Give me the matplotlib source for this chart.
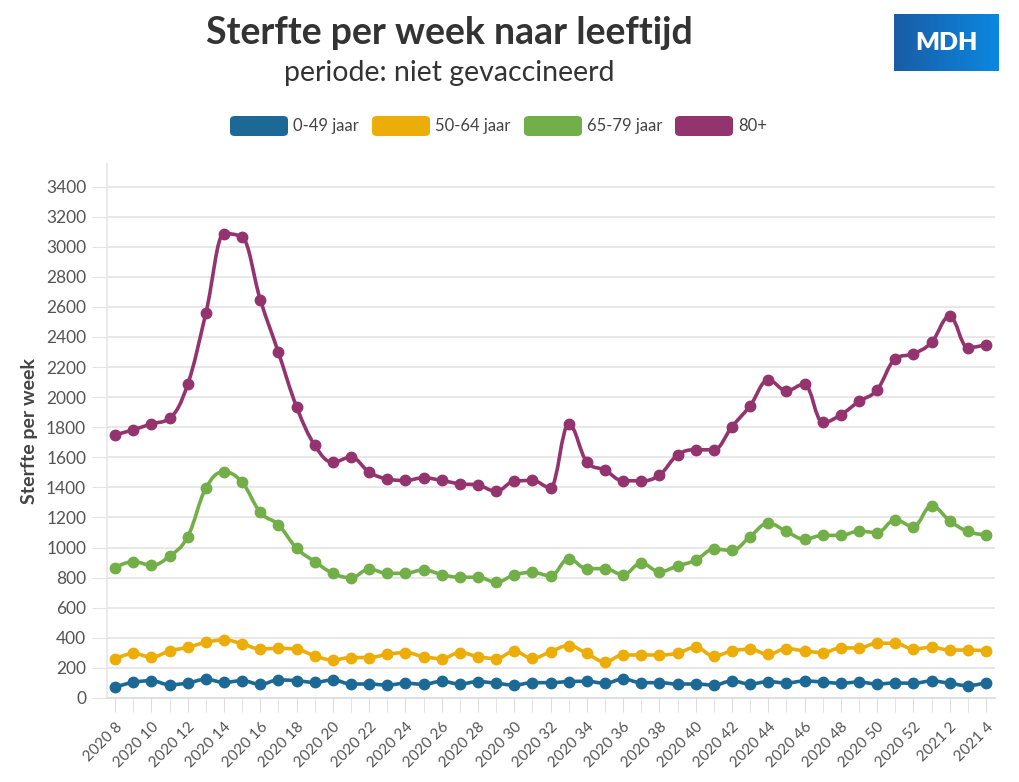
import matplotlib.pyplot as plt
import numpy as np
from matplotlib.path import Path
from matplotlib.patches import PathPatch, FancyBboxPatch
from matplotlib.colors import LinearSegmentedColormap

plt.rcParams['font.family'] = ['Lato', 'DejaVu Sans']

weeks = [f"2020 {w}" for w in range(8, 53)] + [f"2021 {w}" for w in range(1, 5)]

sterfte_0_49 = [73, 104, 115, 88, 100, 124, 104, 115, 91, 120, 115, 104, 120, 93, 93,
                86, 98, 91, 111, 93, 109, 98, 86, 102, 102, 109, 111, 98, 126, 102,
                102, 93, 93, 86, 113, 93, 109, 100, 113, 106, 98, 106, 93, 100, 98,
                113, 98, 82, 102]
sterfte_50_64 = [259, 296, 272, 313, 337, 370, 386, 361, 326, 330, 324, 280, 253, 269, 269,
                 290, 302, 275, 262, 302, 275, 262, 310, 264, 308, 348, 296, 241, 286, 286,
                 286, 298, 337, 279, 313, 324, 290, 328, 313, 302, 333, 333, 364, 364, 326,
                 337, 319, 319, 315]
sterfte_65_79 = [867, 907, 883, 943, 1073, 1395, 1502, 1433, 1234, 1151, 996, 907, 829, 800, 856,
                 829, 829, 852, 820, 803, 803, 770, 818, 836, 812, 925, 860, 860, 820, 896,
                 840, 878, 916, 989, 982, 1073, 1162, 1107, 1056, 1081, 1081, 1109, 1100, 1184, 1140,
                 1277, 1178, 1107, 1084]
sterfte_80plus = [1750, 1783, 1823, 1861, 2086, 2559, 3087, 3063, 2648, 2297, 1936, 1681, 1568, 1601, 1502,
                  1456, 1446, 1464, 1446, 1424, 1415, 1375, 1441, 1446, 1399, 1819, 1570, 1515, 1444, 1444,
                  1482, 1615, 1650, 1650, 1803, 1943, 2114, 2043, 2086, 1832, 1883, 1972, 2049, 2254, 2289,
                  2364, 2537, 2329, 2349]

series = [
    ("0-49 jaar", sterfte_0_49, "#1D6996"),
    ("50-64 jaar", sterfte_50_64, "#EDAD08"),
    ("65-79 jaar", sterfte_65_79, "#73AF48"),
    ("80+", sterfte_80plus, "#94346E"),
]


def spline_path(xs, ys, smooth=1.5):
    """Gladde lijn door de punten (spline zoals in Highcharts)."""
    n = len(xs)
    left = [None] * n
    right = [None] * n
    for i in range(1, n - 1):
        px, py = xs[i - 1], ys[i - 1]
        x, y = xs[i], ys[i]
        nx, ny = xs[i + 1], ys[i + 1]
        d = smooth + 1
        lcx, lcy = (smooth * x + px) / d, (smooth * y + py) / d
        rcx, rcy = (smooth * x + nx) / d, (smooth * y + ny) / d
        corr = (rcy - lcy) * (rcx - x) / (rcx - lcx) + y - rcy
        lcy += corr
        rcy += corr
        if lcy > py and lcy > y:
            lcy = max(py, y)
            rcy = 2 * y - lcy
        elif lcy < py and lcy < y:
            lcy = min(py, y)
            rcy = 2 * y - lcy
        if rcy > ny and rcy > y:
            rcy = max(ny, y)
            lcy = 2 * y - rcy
        elif rcy < ny and rcy < y:
            rcy = min(ny, y)
            lcy = 2 * y - rcy
        left[i] = (lcx, lcy)
        right[i] = (rcx, rcy)
    verts = [(xs[0], ys[0])]
    codes = [Path.MOVETO]
    for i in range(1, n):
        c1 = right[i - 1] or (xs[i - 1], ys[i - 1])
        c2 = left[i] or (xs[i], ys[i])
        verts += [c1, c2, (xs[i], ys[i])]
        codes += [Path.CURVE4] * 3
    return Path(verts, codes)


fig = plt.figure(figsize=(10.19, 7.82), dpi=100)
ax = fig.add_axes([107 / 1019, 84 / 782, 888 / 1019, 534 / 782])

x = np.arange(len(weeks))
for label, vals, color in series:
    ax.add_patch(PathPatch(spline_path(x, vals), fill=False, edgecolor=color,
                           lw=2.6, capstyle='round', joinstyle='round', zorder=3))
    ax.plot(x, vals, 'o', color=color, markersize=7.5, zorder=4)

ax.set_xlim(-0.45, len(weeks) - 0.5)
ax.set_ylim(0, 3550)
ax.set_yticks(np.arange(0, 3401, 200))
ax.set_xticks(x[::2])
ax.set_xticklabels(weeks[::2], rotation=45, ha='right', rotation_mode='anchor',
                   fontsize=11, color='#555555')
ax.set_xticks(x, minor=True)
ax.tick_params(axis='x', which='both', length=10, color='#dddddd', pad=6)
ax.tick_params(axis='y', length=11, color='#e3e3e3', labelsize=12.5,
               labelcolor='#555555', pad=4)
ax.grid(axis='y', color='#e6e6e6', lw=1.3)
ax.set_axisbelow(True)
for s in ['top', 'right']:
    ax.spines[s].set_visible(False)
ax.spines['left'].set_color('#e8e8e8')
ax.spines['bottom'].set_color('#dddddd')
ax.spines['left'].set_linewidth(1.3)
ax.spines['bottom'].set_linewidth(1.3)
ax.set_ylabel("Sterfte per week", fontsize=14, fontweight='bold', color='#444444', labelpad=6)

fig.text(449 / 1019, 1 - 33 / 782, "Sterfte per week naar leeftijd", ha='center', va='center',
         fontsize=27, fontweight='bold', color='#333333')
fig.text(449 / 1019, 1 - 73 / 782, "periode: niet gevaccineerd", ha='center', va='center',
         fontsize=20.5, color='#333333')

# legenda
leg_x = [230, 372, 524, 675]
for (label, vals, color), lx in zip(series, leg_x):
    fig.patches.append(FancyBboxPatch((lx / 1019, 1 - 136 / 782), 58 / 1019, 20 / 782,
                                      boxstyle="round,pad=0,rounding_size=0.005",
                                      transform=fig.transFigure, facecolor=color,
                                      edgecolor='none'))
    fig.text((lx + 63) / 1019, 1 - 126 / 782, label, ha='left', va='center',
             fontsize=12, color='#444444')

# logo
lax = fig.add_axes([894 / 1019, 1 - 71 / 782, 105 / 1019, 57 / 782])
cmap = LinearSegmentedColormap.from_list("mdh", ["#1a5ca6", "#0b88e0"])
lax.imshow(np.linspace(0, 1, 100).reshape(1, -1), aspect='auto', cmap=cmap, extent=[0, 1, 0, 1])
lax.text(0.5, 0.5, "MDH", ha='center', va='center', color='white', fontsize=18,
         fontweight='heavy', transform=lax.transAxes)
lax.axis('off')

fig.savefig("out.png", dpi=100)
